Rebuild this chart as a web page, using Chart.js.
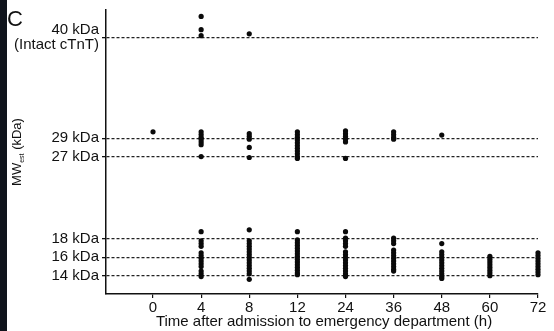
<!DOCTYPE html>
<html><head><meta charset="utf-8">
<script src="https://cdn.jsdelivr.net/npm/chart.js@4/dist/chart.umd.min.js"></script>
<style>html,body{margin:0;padding:0;background:#fff;}#wrap{width:554px;height:331px;position:relative;}</style>
</head><body><div id="wrap"><canvas id="c" width="554" height="331"></canvas></div>
<script>
const timeLabels = ['0','4','8','12','24','36','48','60','72'];
const yTickValues = [14,16,18,27,29,40];
const yTickLabels = {14:'14 kDa',16:'16 kDa',18:'18 kDa',27:'27 kDa',29:'29 kDa',40:['40 kDa','(Intact cTnT)']};
const t0  = [29.7];
const t4  = [42.3,40.85,40.2, 29.7,29.4,29.1,28.9,28.6,28.3,27.0, 18.8,17.8,17.5,17.2,16.5,16.2,15.9,15.6,15.3,15.0,14.5,14.2,13.9];
const t8  = [40.4, 29.5,29.2,28.9,28.0,26.9, 19.0,17.8,17.5,17.2,16.9,16.6,16.3,16.0,15.7,15.4,15.1,14.8,14.5,14.2,13.6];
const t12 = [29.7,29.4,29.1,28.8,28.5,28.2,27.9,27.6,27.3,27.0,26.8, 18.8,17.9,17.6,17.3,17.0,16.7,16.4,16.1,15.8,15.5,15.2,14.9,14.6,14.3,14.1];
const t24 = [29.8,29.5,29.2,28.9,28.6,26.8, 18.8,18.1,17.8,17.5,17.2,16.6,16.3,16.0,15.7,15.4,15.1,14.8,14.5,14.2,13.9];
const t36 = [29.7,29.4,29.1,28.9, 18.1,17.8,17.5,16.8,16.5,16.2,15.9,15.6,15.3,15.0,14.7,14.5];
const t48 = [29.35, 17.5,16.6,16.3,16.0,15.7,15.4,15.1,14.8,14.5,14.2,13.9,13.7];
const t60 = [16.1,15.8,15.5,15.2,14.9,14.6,14.3,14.0];
const t72 = [16.5,16.2,15.9,15.6,15.3,15.0,14.7,14.4,14.1];
const seriesByTime = [t0,t4,t8,t12,t24,t36,t48,t60,t72];

const points = [];
seriesByTime.forEach((arr,i)=>arr.forEach(v=>points.push({x:i,y:v})));

const FONT = "'Liberation Sans', Arial, sans-serif";

const decor = {
  id:'decor',
  beforeDraw(chart){
    const ctx=chart.ctx;
    ctx.save();
    ctx.fillStyle='#fff';ctx.fillRect(0,0,chart.width,chart.height);
    ctx.fillStyle='#10141c';ctx.fillRect(0,0,7,chart.height);
    ctx.restore();
  },
  afterDraw(chart){
    const ctx=chart.ctx;
    ctx.save();
    ctx.fillStyle='#111';
    ctx.font="22px "+FONT;ctx.textAlign='left';ctx.textBaseline='alphabetic';
    ctx.fillText('C',7,26);
    ctx.font="15px "+FONT;ctx.textAlign='center';ctx.textBaseline='middle';
    ctx.fillText('Time after admission to emergency department (h)',324,322);
    ctx.translate(16,152);ctx.rotate(-Math.PI/2);
    const big="13px "+FONT, small="7px "+FONT;
    ctx.font=big;const w1=ctx.measureText('MW').width;const w3=ctx.measureText(' (kDa)').width;
    ctx.font=small;const w2=ctx.measureText('est').width;
    let x=-(w1+w2+w3)/2;
    ctx.textAlign='left';ctx.textBaseline='alphabetic';
    ctx.font=big;ctx.fillText('MW',x,5);x+=w1;
    ctx.font=small;ctx.fillText('est',x,8);x+=w2;
    ctx.font=big;ctx.fillText(' (kDa)',x,5);
    ctx.restore();
  }
};

new Chart(document.getElementById('c'),{
  type:'scatter',
  data:{datasets:[{data:points,backgroundColor:'#0a0a0a',borderColor:'#0a0a0a',pointRadius:2.6,pointHoverRadius:2.6,borderWidth:0,clip:false}]},
  options:{
    responsive:false,animation:false,
    layout:{padding:{top:10,right:16,left:0,bottom:0}},
    plugins:{legend:{display:false},tooltip:{enabled:false}},
    scales:{
      x:{type:'linear',min:-0.977,max:8,
        afterBuildTicks(s){s.ticks=timeLabels.map((_,i)=>({value:i}));},
        afterFit(s){s.height=37;s.paddingLeft=0;s.paddingRight=0;},
        ticks:{callback:(v)=>timeLabels[v],color:'#111',font:{family:FONT,size:15},padding:1,maxRotation:0,autoSkip:false},
        grid:{drawOnChartArea:false,drawTicks:true,tickLength:4,color:'#111',lineWidth:1.2},
        border:{display:true,color:'#111',width:1.5}
      },
      y:{type:'linear',min:12,max:43,
        afterBuildTicks(s){s.ticks=yTickValues.map(v=>({value:v}));},
        afterFit(s){s.width=106;s.paddingTop=0;s.paddingBottom=0;},
        ticks:{callback:(v)=>yTickLabels[v],color:'#111',font:{family:FONT,size:15,lineHeight:1.05},padding:3,autoSkip:false},
        grid:{drawOnChartArea:true,drawTicks:true,tickLength:4,color:'#222',lineWidth:1.3,tickBorderDash:[],tickColor:'#111'},
        border:{display:true,color:'#111',width:1.5,dash:[3,2]}
      }
    }
  },
  plugins:[decor]
});
</script></body></html>
